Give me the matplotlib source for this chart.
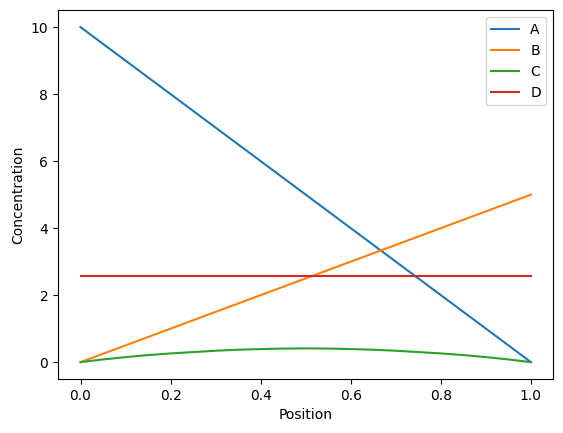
import matplotlib
matplotlib.use('Agg')
import matplotlib.pyplot as plt

# concentration profiles
pos_line = [0.0, 1.0]
conc_a = [10.0, 0.0]
conc_b = [0.0, 5.0]
conc_d = [2.57, 2.57]

pos_c = [0.0, 0.05, 0.1, 0.15, 0.2, 0.25, 0.3, 0.35, 0.4, 0.45, 0.5,
         0.55, 0.6, 0.65, 0.7, 0.75, 0.8, 0.85, 0.9, 0.95, 1.0]
conc_c = [0.0, 0.08, 0.15, 0.21, 0.26, 0.30, 0.34, 0.37, 0.39, 0.405, 0.41,
          0.405, 0.39, 0.37, 0.34, 0.30, 0.26, 0.21, 0.15, 0.08, 0.0]

fig, ax = plt.subplots(figsize=(5.63, 4.33), dpi=100)
fig.subplots_adjust(left=0.103, right=0.983, top=0.976, bottom=0.125)

ax.plot(pos_line, conc_a, label='A')
ax.plot(pos_line, conc_b, label='B')
ax.plot(pos_c, conc_c, label='C')
ax.plot(pos_line, conc_d, label='D')

ax.set_xlabel('Position')
ax.set_ylabel('Concentration')
ax.legend()

fig.savefig('out.png')
